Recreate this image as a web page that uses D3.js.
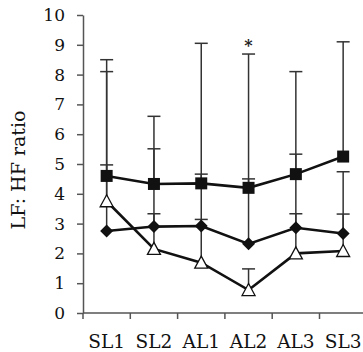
<!DOCTYPE html>
<html>
<head>
<meta charset="utf-8">
<script src="https://cdn.jsdelivr.net/npm/d3@7"></script>
<style>
  body { margin: 0; background: #fff; }
  svg { display: block; }
</style>
</head>
<body>
<div id="chart"></div>
<script>
// data
const categories = ['SL1', 'SL2', 'AL1', 'AL2', 'AL3', 'SL3'];
const squareMean = [4.6, 4.33, 4.35, 4.2, 4.66, 5.25];
const squareUpper = [8.5, 6.6, 9.05, 8.69, 8.1, 9.1];
const diamondMean = [2.75, 2.9, 2.92, 2.32, 2.86, 2.67];
const diamondUpper = [4.97, 3.33, 3.14, 4.5, 3.33, 3.32];
const triangleMean = [3.75, 2.15, 1.69, 0.77, 2.0, 2.08];
const triangleUpper = [8.1, 5.51, 4.66, 1.48, 5.33, 4.74];
const yTicks = [0, 1, 2, 3, 4, 5, 6, 7, 8, 9, 10];
const markedCategory = 'AL2';

const width = 363, height = 352;
const margin = { top: 15, left: 83, bottom: 39 };
const bandW = 47.3;

const svg = d3.select('#chart').append('svg')
  .attr('width', width)
  .attr('height', height);

const x = d3.scaleBand()
  .domain(categories)
  .range([margin.left, margin.left + bandW * categories.length]);
const y = d3.scaleLinear()
  .domain([0, 10])
  .range([height - margin.bottom, margin.top]);

const cx = d => x(d) + x.bandwidth() / 2;
const fontFam = '"DejaVu Serif", serif';
const axisColor = '#555';

// y axis
const yAxis = svg.append('g')
  .attr('transform', `translate(${margin.left},0)`)
  .call(d3.axisLeft(y).tickValues(yTicks).tickSize(6).tickSizeOuter(0).tickPadding(12));
yAxis.select('.domain').attr('stroke', axisColor).attr('stroke-width', 1.5);
yAxis.selectAll('.tick line').attr('stroke', axisColor).attr('stroke-width', 1.5);
yAxis.selectAll('.tick text')
  .attr('font-family', fontFam)
  .attr('font-size', 17)
  .attr('fill', '#111');

// x axis (ticks at band edges)
const xAxis = svg.append('g');
xAxis.append('line')
  .attr('x1', margin.left).attr('x2', width)
  .attr('y1', y(0)).attr('y2', y(0))
  .attr('stroke', axisColor).attr('stroke-width', 1.5);
xAxis.selectAll('.xtick')
  .data(categories)
  .enter().append('line')
  .attr('x1', d => x(d)).attr('x2', d => x(d))
  .attr('y1', y(0)).attr('y2', y(0) + 6)
  .attr('stroke', axisColor).attr('stroke-width', 1.5);
xAxis.selectAll('.xlabel')
  .data(categories)
  .enter().append('text')
  .attr('x', cx)
  .attr('y', 348)
  .attr('text-anchor', 'middle')
  .attr('font-family', fontFam)
  .attr('font-size', 18.5)
  .attr('fill', '#111')
  .text(d => d);

svg.append('text')
  .attr('transform', `translate(25, ${170}) rotate(-90)`)
  .attr('text-anchor', 'middle')
  .attr('font-family', fontFam)
  .attr('font-size', 19)
  .attr('fill', '#111')
  .text('LF: HF ratio');

const series = [
  { mean: squareMean, upper: squareUpper, shape: 'square' },
  { mean: diamondMean, upper: diamondUpper, shape: 'diamond' },
  { mean: triangleMean, upper: triangleUpper, shape: 'triangle' }
];

// error bars
series.forEach(s => {
  const g = svg.append('g');
  categories.forEach((c, i) => {
    g.append('line')
      .attr('x1', cx(c)).attr('x2', cx(c))
      .attr('y1', y(s.mean[i])).attr('y2', y(s.upper[i]))
      .attr('stroke', '#333').attr('stroke-width', 1.5);
    g.append('line')
      .attr('x1', cx(c) - 6.5).attr('x2', cx(c) + 6.5)
      .attr('y1', y(s.upper[i])).attr('y2', y(s.upper[i]))
      .attr('stroke', '#333').attr('stroke-width', 1.5);
  });
});

// lines
const line = d3.line()
  .x((d, i) => cx(categories[i]))
  .y(d => y(d));
series.forEach(s => {
  svg.append('path')
    .datum(s.mean)
    .attr('d', line)
    .attr('fill', 'none')
    .attr('stroke', '#111')
    .attr('stroke-width', 2.6);
});

// markers
series.forEach(s => {
  const g = svg.append('g');
  s.mean.forEach((v, i) => {
    const px = cx(categories[i]), py = y(v);
    if (s.shape === 'square') {
      g.append('rect')
        .attr('x', px - 6).attr('y', py - 6)
        .attr('width', 12).attr('height', 12)
        .attr('fill', '#111');
    } else if (s.shape === 'diamond') {
      g.append('path')
        .attr('d', `M${px},${py - 6.5}L${px + 6.5},${py}L${px},${py + 6.5}L${px - 6.5},${py}Z`)
        .attr('fill', '#111');
    } else {
      g.append('path')
        .attr('d', `M${px},${py - 6.5}L${px + 6.5},${py + 5.5}L${px - 6.5},${py + 5.5}Z`)
        .attr('fill', '#fff')
        .attr('stroke', '#111')
        .attr('stroke-width', 1.3);
    }
  });
});

// significance mark
svg.append('text')
  .attr('x', cx(markedCategory))
  .attr('y', 51)
  .attr('text-anchor', 'middle')
  .attr('font-family', fontFam)
  .attr('font-size', 16)
  .attr('font-weight', 'bold')
  .attr('fill', '#222')
  .text('*');
</script>
</body>
</html>
